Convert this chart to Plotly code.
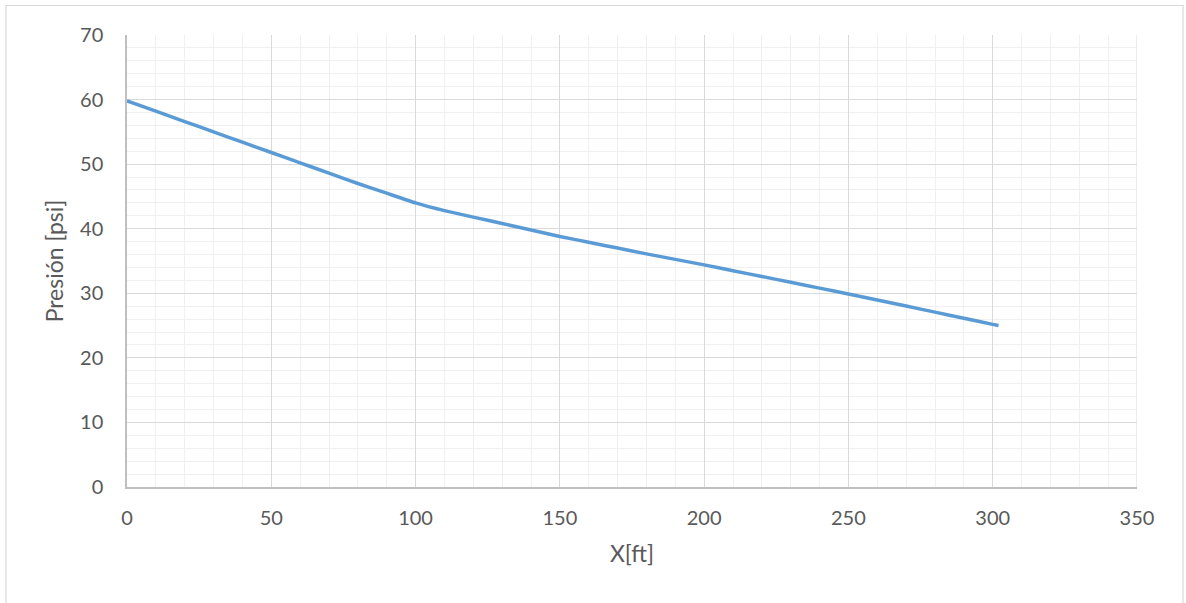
import plotly.graph_objects as go

x_ft = [0, 10, 20, 30, 40, 50, 60, 70, 80, 90, 100, 110, 120, 130, 140, 150,
        160, 170, 180, 190, 200, 210, 220, 230, 240, 250, 260, 270, 280, 290, 300, 302]
presion_psi = [59.8, 58.2, 56.6, 55.0, 53.4, 51.8, 50.2, 48.6, 47.0, 45.5, 44.0,
               42.8, 41.8, 40.8, 39.8, 38.8, 37.9, 37.0, 36.1, 35.25, 34.4, 33.5,
               32.6, 31.7, 30.8, 29.9, 28.96, 28.02, 27.08, 26.13, 25.19, 25.0]

x_ticks = [0, 50, 100, 150, 200, 250, 300, 350]
y_ticks = [0, 10, 20, 30, 40, 50, 60, 70]

FONT = "Lato, 'Open Sans', sans-serif"
TXT = "#595959"

L, T = 127, 35
PW, PH = 1010, 452

fig = go.Figure()
fig.add_trace(go.Scatter(
    x=x_ft, y=presion_psi, mode="lines",
    line=dict(color="#5b9bd5", width=3.5, shape="spline", smoothing=0.3),
    showlegend=False, hoverinfo="x+y",
))

fig.update_layout(
    width=1186, height=603,
    margin=dict(l=L, r=1186 - L - PW, t=T, b=603 - T - PH),
    paper_bgcolor="white", plot_bgcolor="white",
    font=dict(family=FONT, color=TXT, size=20),
    xaxis=dict(
        range=[0, 350], tickvals=x_ticks, ticktext=[str(v) for v in x_ticks],
        showgrid=True, gridcolor="#d9d9d9", gridwidth=1,
        minor=dict(dtick=10, tick0=0, showgrid=True, gridcolor="#f0f0f0", gridwidth=1),
        showline=True, linecolor="#bfbfbf", linewidth=1.5,
        zeroline=False, ticks="", ticklabelstandoff=12,
        tickfont=dict(size=20, color=TXT, family=FONT),
        title=dict(text="X[ft]", font=dict(size=23, color=TXT, family=FONT), standoff=18),
    ),
    yaxis=dict(
        range=[0, 70], tickvals=y_ticks, ticktext=[str(v) for v in y_ticks],
        showgrid=True, gridcolor="#d9d9d9", gridwidth=1,
        minor=dict(dtick=2, tick0=0, showgrid=True, gridcolor="#f0f0f0", gridwidth=1),
        showline=True, linecolor="#bfbfbf", linewidth=1.5,
        zeroline=False, ticks="", ticklabelstandoff=18,
        tickfont=dict(size=20, color=TXT, family=FONT),
        title=dict(text="Presión [psi]", font=dict(size=23, color=TXT, family=FONT), standoff=10),
    ),
    shapes=[
        dict(type="line", xref="x", yref="paper", x0=350, x1=350, y0=0, y1=1,
             line=dict(color="#d9d9d9", width=1)),
        dict(type="rect", xref="paper", yref="paper",
             x0=(6 - L) / PW, x1=(1183 - L) / PW,
             y0=(487 - 640) / PH, y1=(487 - 5.5) / PH,
             line=dict(color="#d9d9d9", width=1.2), fillcolor="rgba(0,0,0,0)", layer="below"),
    ],
)

fig.write_html("out.html", config={"displayModeBar": False},
               post_script="document.body.style.margin='0';")
